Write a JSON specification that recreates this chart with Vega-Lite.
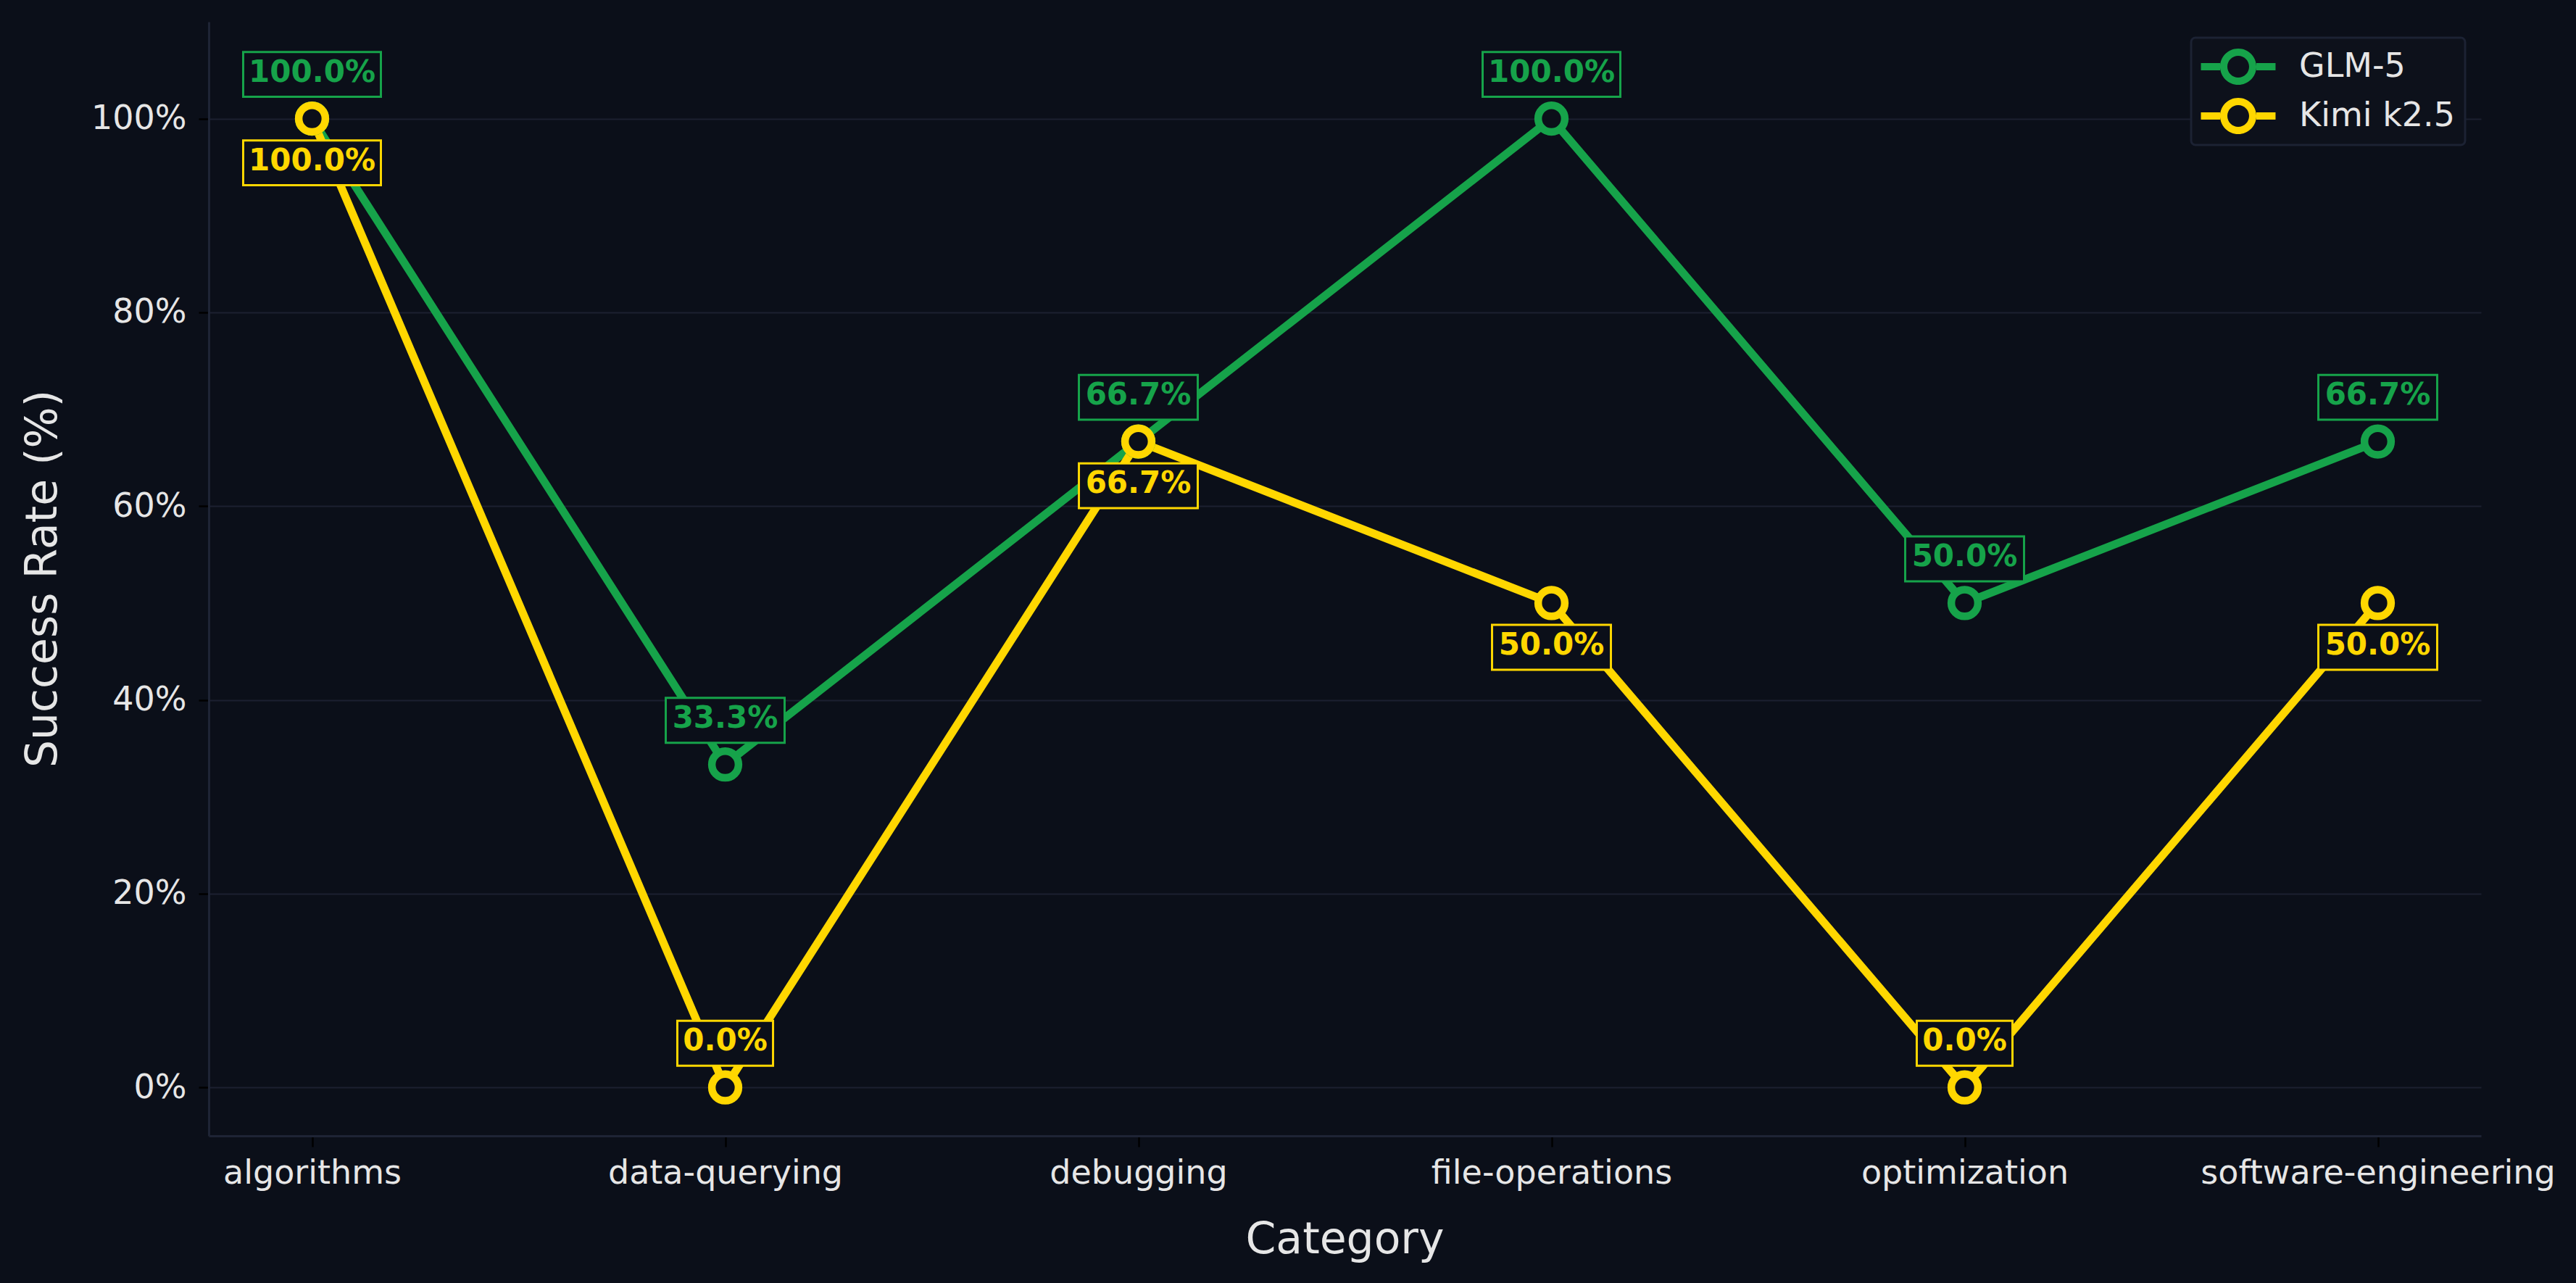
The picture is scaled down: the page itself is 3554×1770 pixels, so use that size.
{
  "$schema": "https://vega.github.io/schema/vega-lite/v6.json",
  "autosize": {"type": "none"},
  "padding": {"left": 288, "top": 30, "right": 131, "bottom": 203},
  "width": 3135,
  "height": 1537,
  "background": "#0b0f19",
  "data": {
    "values": [
      {"model": "GLM-5", "category": "algorithms", "rate": 1},
      {"model": "GLM-5", "category": "data-querying", "rate": 0.3333},
      {"model": "GLM-5", "category": "debugging", "rate": 0.6667},
      {"model": "GLM-5", "category": "file-operations", "rate": 1},
      {"model": "GLM-5", "category": "optimization", "rate": 0.5},
      {"model": "GLM-5", "category": "software-engineering", "rate": 0.6667},
      {"model": "Kimi k2.5", "category": "algorithms", "rate": 1},
      {"model": "Kimi k2.5", "category": "data-querying", "rate": 0},
      {"model": "Kimi k2.5", "category": "debugging", "rate": 0.6667},
      {"model": "Kimi k2.5", "category": "file-operations", "rate": 0.5},
      {"model": "Kimi k2.5", "category": "optimization", "rate": 0},
      {"model": "Kimi k2.5", "category": "software-engineering", "rate": 0.5}
    ]
  },
  "encoding": {
    "x": {
      "field": "category",
      "type": "nominal",
      "sort": null,
      "scale": {"type": "point", "padding": 0.25},
      "axis": {
        "title": "Category",
        "titleX": 1567,
        "titleY": 161,
        "titleBaseline": "alphabetic",
        "labelAngle": 0,
        "labelBaseline": "alphabetic",
        "labelPadding": 50,
        "labelLimit": 0,
        "tickSize": 15
      }
    },
    "y": {
      "field": "rate",
      "type": "quantitative",
      "scale": {"domain": [-0.05, 1.1], "nice": false, "zero": false},
      "axis": {
        "title": "Success Rate (%)",
        "values": [0, 0.2, 0.4, 0.6, 0.8, 1],
        "format": ".0%",
        "titleX": -211,
        "titleY": 768,
        "titleAngle": -90,
        "titleBaseline": "alphabetic",
        "labelPadding": 17,
        "tickSize": 14
      }
    }
  },
  "layer": [
    {
      "mark": {"type": "line", "strokeWidth": 11},
      "encoding": {
        "color": {
          "field": "model",
          "type": "nominal",
          "scale": {"domain": ["GLM-5", "Kimi k2.5"], "range": ["#16a34a", "#ffd700"]},
          "legend": {
            "title": null,
            "orient": "top-right",
            "offset": 22,
            "padding": 14,
            "rowPadding": 16,
            "fillColor": "#0d111b",
            "strokeColor": "#1c2233",
            "cornerRadius": 6,
            "labelFontSize": 46,
            "labelColor": "#e6e6e6",
            "labelLimit": 0,
            "symbolType": "M-1.98,-0.192H-0.96V0.192H-1.98Z M0.96,-0.192H1.98V0.192H0.96Z M0.962,0A0.962,0.962 0 1 1 -0.962,0A0.962,0.962 0 1 1 0.962,0Z M0.577,0A0.577,0.577 0 1 0 -0.577,0A0.577,0.577 0 1 0 0.577,0Z",
            "symbolSize": 2704,
            "symbolStrokeWidth": 0,
            "symbolOffset": 25,
            "labelOffset": 58,
            "encode": {
              "legend": {"update": {"strokeWidth": {"value": 3}}},
              "symbols": {"update": {"strokeWidth": {"value": 0}, "opacity": {"value": 1}}}
            }
          }
        }
      }
    },
    {
      "mark": {"type": "point", "filled": false, "fill": "#0b0f19", "size": 1353, "strokeWidth": 10.5, "opacity": 1},
      "encoding": {
        "color": {"field": "model", "type": "nominal", "legend": null}
      }
    },
    {
      "mark": {
        "type": "point",
        "filled": false,
        "fill": "#0b0f19",
        "size": 36100,
        "strokeWidth": 3,
        "opacity": 1,
        "yOffset": {"expr": "datum.model === 'GLM-5' || datum.rate === 0 ? -61 : 61"}
      },
      "encoding": {
        "color": {"field": "model", "type": "nominal", "legend": null},
        "shape": {
          "field": "rate",
          "type": "nominal",
          "legend": null,
          "scale": {
            "domain": [0, 0.3333, 0.5, 0.6667, 1],
            "range": [
              "M-0.695,-0.326H0.695V0.326H-0.695Z",
              "M-0.863,-0.326H0.863V0.326H-0.863Z",
              "M-0.863,-0.326H0.863V0.326H-0.863Z",
              "M-0.863,-0.326H0.863V0.326H-0.863Z",
              "M-1,-0.326H1V0.326H-1Z"
            ]
          }
        }
      }
    },
    {
      "mark": {
        "type": "text",
        "fontWeight": "bold",
        "fontSize": 42,
        "baseline": "middle",
        "dy": -3,
        "yOffset": {"expr": "datum.model === 'GLM-5' || datum.rate === 0 ? -61 : 61"}
      },
      "encoding": {
        "color": {"field": "model", "type": "nominal", "legend": null},
        "text": {"field": "rate", "type": "quantitative", "format": ".1%"}
      }
    }
  ],
  "config": {
    "font": "DejaVu Sans",
    "view": {"stroke": null},
    "axis": {
      "labelFontSize": 46,
      "labelColor": "#e6e6e6",
      "titleFontSize": 60,
      "titleFontWeight": "normal",
      "titleColor": "#e6e6e6",
      "tickColor": "#000000",
      "tickWidth": 2.5,
      "domainColor": "#1e2435",
      "domainWidth": 3,
      "gridColor": "#1c2030",
      "gridWidth": 2
    }
  }
}
